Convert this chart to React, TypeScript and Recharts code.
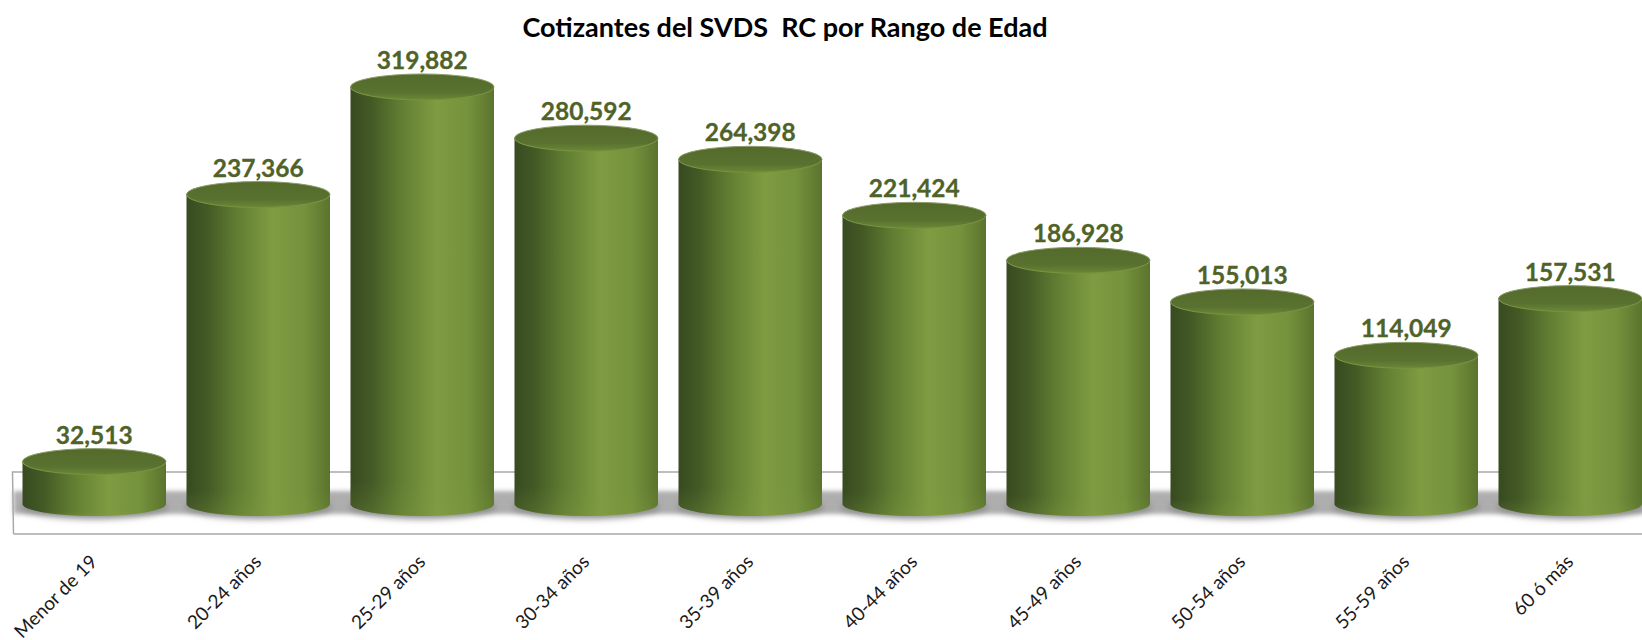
import React from 'react';
import { BarChart, Bar, XAxis, YAxis, LabelList, ReferenceArea } from 'recharts';

const categories = ['Menor de 19', '20-24 años', '25-29 años', '30-34 años', '35-39 años', '40-44 años', '45-49 años', '50-54 años', '55-59 años', '60 ó más'];
const cotizantes = [32513, 237366, 319882, 280592, 264398, 221424, 186928, 155013, 114049, 157531];

const data = categories.map((name, i) => ({ name, value: cotizantes[i] }));

const FONT = 'Lato, "Open Sans", sans-serif';
const Y_MIN = -23013;
const Y_MAX = 350000;

const Cylinder: React.FC<any> = ({ x, y, width, height }) => {
  const rx = width / 2;
  const base = y + height;
  const body = `M${x},${y} L${x},${base} A${rx},12 0 0 0 ${x + width},${base} L${x + width},${y} Z`;
  return (
    <g>
      <ellipse cx={x + rx} cy={base + 3} rx={rx + 2} ry={12} fill="#8f8f8f" filter="url(#soft)" />
      <path d={body} fill="url(#side)" />
      <path d={body} fill="url(#sideBottom)" />
      <ellipse cx={x + rx} cy={y} rx={rx} ry={13} fill="url(#cap)" stroke="url(#rim)" strokeWidth={1} />
    </g>
  );
};

const Floor: React.FC<any> = ({ x, y, width, height }) => (
  <g>
    <rect x={x + 1} y={491} width={width} height={23} fill="#aeaeae" filter="url(#softer)" />
    <path
      d={`M${x + 1},${y + height} L${x},${y + height - 62} L${x + width},${y + height - 62} M${x + 1},${y + height} L${x + width},${y + height}`}
      fill="none"
      stroke="#a9a9a9"
      strokeWidth={1.5}
    />
  </g>
);

const AgeTick: React.FC<any> = ({ x, y, payload }) => (
  <text
    transform={`translate(${x + 4},${y + 21}) rotate(-45)`}
    textAnchor="end"
    fontFamily={FONT}
    fontSize={19}
    fill="#1a1a1a"
  >
    {payload.value}
  </text>
);

export default function App() {
  return (
    <div style={{ position: 'absolute', left: 0, top: 0, width: 1642, height: 640, overflow: 'hidden', background: '#fff' }}>
      <BarChart
        width={1660}
        height={640}
        data={data}
        margin={{ top: 47.7, right: 7.5, bottom: 0, left: 12.5 }}
      >
        <defs>
          <linearGradient id="side" x1="0" y1="0" x2="1" y2="0">
            <stop offset="0%" stopColor="#384a21" />
            <stop offset="14%" stopColor="#435925" />
            <stop offset="35%" stopColor="#617d32" />
            <stop offset="60%" stopColor="#7f9c42" />
            <stop offset="82%" stopColor="#75923c" />
            <stop offset="100%" stopColor="#5a742d" />
          </linearGradient>
          <linearGradient id="sideBottom" x1="0" y1="1" x2="0" y2="0" gradientUnits="objectBoundingBox">
            <stop offset="0%" stopColor="#7f9c42" stopOpacity={0.25} />
            <stop offset="8%" stopColor="#7f9c42" stopOpacity={0} />
          </linearGradient>
          <linearGradient id="cap" x1="0" y1="0" x2="0" y2="1">
            <stop offset="0%" stopColor="#536a2b" />
            <stop offset="70%" stopColor="#5a7230" />
            <stop offset="100%" stopColor="#6b8836" />
          </linearGradient>
          <linearGradient id="rim" x1="0" y1="0" x2="0" y2="1">
            <stop offset="0%" stopColor="#8d9d70" />
            <stop offset="100%" stopColor="#76933b" />
          </linearGradient>
          <filter id="soft" x="-10%" y="-50%" width="120%" height="200%">
            <feGaussianBlur stdDeviation="3" />
          </filter>
          <filter id="softer" x="-1%" y="-50%" width="102%" height="200%">
            <feGaussianBlur stdDeviation="2" />
          </filter>
        </defs>
        <text x={785} y={37} textAnchor="middle" fontFamily={FONT} fontSize={27} fontWeight={700} fill="#000" style={{ whiteSpace: 'pre' }}>
          {'Cotizantes del SVDS  RC por Rango de Edad'}
        </text>
        <ReferenceArea y1={Y_MIN} y2={0} shape={<Floor />} ifOverflow="visible" />
        <XAxis dataKey="name" interval={0} axisLine={false} tickLine={false} height={106} tick={<AgeTick />} />
        <YAxis hide domain={[Y_MIN, Y_MAX]} />
        <Bar dataKey="value" barSize={143.5} shape={<Cylinder />} isAnimationActive={false}>
          <LabelList
            dataKey="value"
            position="top"
            offset={18}
            formatter={(v: number) => v.toLocaleString('en-US')}
            fontFamily={FONT}
            fontSize={24.5}
            fontWeight={700}
            fill="#4f6228"
            stroke="#4f6228"
            strokeWidth={0.3}
          />
        </Bar>
      </BarChart>
    </div>
  );
}
